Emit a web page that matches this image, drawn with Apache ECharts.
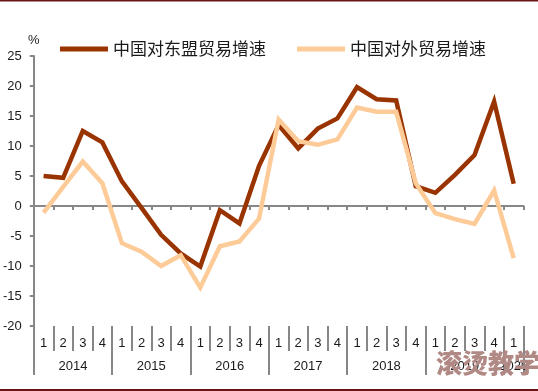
<!DOCTYPE html>
<html>
<head>
<meta charset="utf-8">
<script src="https://cdn.jsdelivr.net/npm/echarts@6/dist/echarts.min.js"></script>
<style>
  html, body { margin: 0; padding: 0; background: #ffffff; }
  #chart { width: 538px; height: 391px; }
</style>
</head>
<body>
<div id="chart"></div>
<script>
// ---- data ----
var categories = ['2014Q1','2014Q2','2014Q3','2014Q4','2015Q1','2015Q2','2015Q3','2015Q4',
                  '2016Q1','2016Q2','2016Q3','2016Q4','2017Q1','2017Q2','2017Q3','2017Q4',
                  '2018Q1','2018Q2','2018Q3','2018Q4','2019Q1','2019Q2','2019Q3','2019Q4','2020Q1'];
var quarterLabels = ['1','2','3','4','1','2','3','4','1','2','3','4','1','2','3','4',
                     '1','2','3','4','1','2','3','4','1'];
var yearLabels = ['2014','2015','2016','2017','2018','2019','2020'];
var yearCenters = [2, 6, 10, 14, 18, 22, 24.5];
var yearBounds = [0, 4, 8, 12, 16, 20, 24, 25];
var seriesNames = ['中国对东盟贸易增速', '中国对外贸易增速'];
var aseanGrowth = [5.0, 4.7, 12.5, 10.6, 4.1, -0.3, -4.8, -7.9, -10.1, -0.7, -2.9, 6.7,
                   13.5, 9.6, 12.9, 14.6, 19.8, 17.8, 17.6, 3.3, 2.2, 5.2, 8.5, 17.4, 3.7];
var totalGrowth = [-1.1, 3.2, 7.4, 3.8, -6.2, -7.6, -10.0, -8.2, -13.6, -6.7, -5.9, -2.1,
                   14.4, 10.8, 10.2, 11.1, 16.4, 15.7, 15.7, 3.8, -1.2, -2.2, -3.0, 2.6, -8.7];
var yTicks = { min: -20, max: 25, interval: 5 };

// ---- chart ----
var chart = echarts.init(document.getElementById('chart'), null, { renderer: 'canvas' });
var axisGray = '#878787';
var txtFont = '"Liberation Sans", Arial, sans-serif';
var cjkFont = '"Noto Sans CJK SC", sans-serif';
var darkColor = '#993300';
var lightColor = '#FDCB98';

var option = {
  backgroundColor: '#ffffff',
  animation: false,
  legend: {
    left: 55,
    top: 34,
    itemWidth: 48,
    itemHeight: 5,
    itemGap: 31,
    icon: 'rect',
    data: [
      { name: seriesNames[0], itemStyle: { color: darkColor } },
      { name: seriesNames[1], itemStyle: { color: lightColor } }
    ],
    textStyle: { fontFamily: cjkFont, fontSize: 17, color: '#1a1a1a', padding: [0, 0, 0, 0], lineHeight: 20 },
    itemStyle: { borderWidth: 0 }
  },
  grid: { left: 28.5, right: 14.5, top: 56, bottom: 65, containLabel: false },
  xAxis: [
    {
      type: 'category',
      data: categories,
      boundaryGap: true,
      position: 'bottom',
      axisLine: { show: true, onZero: true, lineStyle: { color: axisGray, width: 2 } },
      axisTick: { show: true, interval: 0, length: 4, inside: false, lineStyle: { color: axisGray, width: 2 } },
      axisLabel: { show: false },
      splitLine: { show: false }
    },
    {
      type: 'category',
      data: quarterLabels,
      boundaryGap: true,
      position: 'bottom',
      axisLine: { show: false, onZero: false },
      axisTick: { show: true, interval: 0, length: 25, inside: false, lineStyle: { color: axisGray, width: 2 } },
      axisLabel: { show: true, interval: 0, margin: 11, fontFamily: txtFont, fontSize: 13, color: '#1a1a1a' },
      splitLine: { show: false }
    },
    {
      type: 'value',
      min: 0,
      max: 25,
      position: 'bottom',
      axisLine: { show: false, onZero: false },
      axisTick: { show: true, customValues: yearBounds, length: 49, inside: false, lineStyle: { color: axisGray, width: 2 } },
      axisLabel: {
        show: true,
        customValues: yearCenters,
        margin: 34,
        fontFamily: txtFont, fontSize: 13, color: '#1a1a1a',
        formatter: function (v) {
          var i = yearCenters.indexOf(v);
          return i >= 0 ? yearLabels[i] : '';
        }
      },
      splitLine: { show: false }
    }
  ],
  yAxis: {
    type: 'value',
    min: yTicks.min,
    max: yTicks.max,
    interval: yTicks.interval,
    name: '%',
    nameLocation: 'end',
    nameGap: 9,
    nameTextStyle: { fontFamily: txtFont, fontSize: 13, color: '#1a1a1a', align: 'center' },
    axisLine: { show: true, lineStyle: { color: axisGray, width: 2 } },
    axisTick: { show: true, length: 4, inside: false, lineStyle: { color: axisGray, width: 2 } },
    axisLabel: { fontFamily: txtFont, fontSize: 13, color: '#1a1a1a', margin: 12 },
    splitLine: { show: false }
  },
  series: [
    {
      name: seriesNames[0],
      type: 'line',
      xAxisIndex: 0,
      data: aseanGrowth,
      symbol: 'none',
      lineStyle: { color: darkColor, width: 4.5, join: 'miter', cap: 'butt' },
      itemStyle: { color: darkColor },
      z: 3
    },
    {
      name: seriesNames[1],
      type: 'line',
      xAxisIndex: 0,
      data: totalGrowth,
      symbol: 'none',
      lineStyle: { color: lightColor, width: 4.5, join: 'miter', cap: 'butt' },
      itemStyle: { color: lightColor },
      z: 4
    }
  ],
  graphic: [
    { type: 'rect', shape: { x: 0, y: 0, width: 538, height: 1.5 }, style: { fill: '#6b1414' }, silent: true },
    { type: 'rect', shape: { x: 0, y: 389, width: 538, height: 2 }, style: { fill: '#6b1414' }, silent: true },
    {
      type: 'text', left: 436, top: 350, z: 100,
      style: { text: '滚烫教学', font: '900 26px "Noto Sans CJK SC", sans-serif', fill: '#b08884' }
    }
  ]
};
chart.setOption(option);
</script>
</body>
</html>
